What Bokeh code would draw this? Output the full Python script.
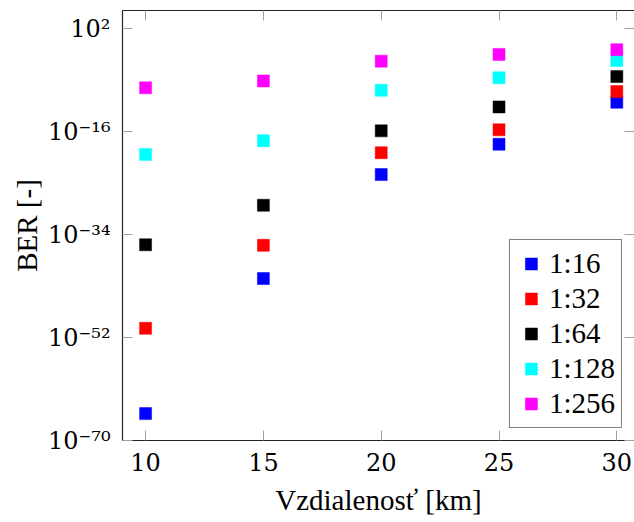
from bokeh.plotting import figure
from bokeh.models import FixedTicker, LinearAxis, LogAxis, Range1d, Legend, LegendItem
from bokeh.embed import file_html
from bokeh.resources import INLINE

# Data (BER vs distance)
distance_km = [10, 15, 20, 25, 30]
ber_1_16 = [5e-66, 2e-42, 3e-24, 6e-19, 1.3e-11]
ber_1_32 = [4e-51, 1.3e-36, 2e-20, 2e-16, 1e-9]
ber_1_64 = [1.6e-36, 1.3e-29, 1.3e-16, 2e-12, 4e-7]
ber_1_128 = [1e-20, 2.5e-18, 1.6e-9, 2.5e-7, 2.5e-4]
ber_1_256 = [4.3e-9, 7e-8, 2e-4, 3e-3, 2e-2]

series_labels = ["1:16", "1:32", "1:64", "1:128", "1:256"]
series_values = [ber_1_16, ber_1_32, ber_1_64, ber_1_128, ber_1_256]
series_colors = ["#0000ff", "#ff0000", "#000000", "#00ffff", "#ff00ff"]

x_ticks = [10, 15, 20, 25, 30]
y_ticks = [1e-70, 1e-52, 1e-34, 1e-16, 1e2]
y_tick_labels = ["10⁻⁷⁰", "10⁻⁵²", "10⁻³⁴", "10⁻¹⁶", "10²"]

FONT = "Liberation Serif"
TICK_FONT = "DejaVu Serif"
TICK_COLOR = "#a0a0a0"
FRAME_COLOR = "#222222"

p = figure(width=634, height=522, output_backend="svg", toolbar_location=None,
           y_axis_type="log",
           x_range=Range1d(9.02, 30.75), y_range=Range1d(1e-70, 10 ** 5.15),
           min_border_left=122, min_border_bottom=82, min_border_top=10, min_border_right=0)

p.grid.visible = False
p.outline_line_color = None
p.background_fill_color = "white"
p.border_fill_color = "white"

# bottom axis
xa = p.xaxis[0]
xa.ticker = FixedTicker(ticks=x_ticks, minor_ticks=[])
xa.axis_label = "Vzdialenosť [km]"
# left axis
ya = p.yaxis[0]
ya.ticker = FixedTicker(ticks=y_ticks, minor_ticks=[])
ya.major_label_overrides = {t: l for t, l in zip(y_ticks, y_tick_labels)}
ya.axis_label = "BER [-]"

for ax in (xa, ya):
    ax.axis_line_color = FRAME_COLOR
    ax.axis_line_width = 1.2
    ax.major_tick_in = 10
    ax.major_tick_out = 0
    ax.major_tick_line_color = TICK_COLOR
    ax.minor_tick_line_color = None
    ax.major_label_text_font = TICK_FONT
    ax.major_label_text_font_size = "24px"
    ax.major_label_text_color = "black"
    ax.axis_label_text_font = FONT
    ax.axis_label_text_font_size = "29px"
    ax.axis_label_text_font_style = "normal"
    ax.axis_label_text_color = "black"

xa.major_label_standoff = 12
xa.axis_label_standoff = 10
ya.major_label_standoff = 12
ya.axis_label_standoff = 2

# mirrored tick marks on top and right (right frame edge is cut off in the original)
top = LinearAxis(ticker=FixedTicker(ticks=x_ticks, minor_ticks=[]),
                 major_label_overrides={t: "" for t in x_ticks})
right = LogAxis(ticker=FixedTicker(ticks=y_ticks, minor_ticks=[]),
                major_label_overrides={t: "" for t in y_ticks})
for ax in (top, right):
    ax.major_tick_in = 10
    ax.major_tick_out = 0
    ax.major_tick_line_color = TICK_COLOR
    ax.minor_tick_line_color = None
    ax.major_label_text_font_size = "0px"
    ax.major_label_standoff = 0
top.axis_line_color = FRAME_COLOR
top.axis_line_width = 1.2
right.axis_line_color = None
p.add_layout(top, "above")
p.add_layout(right, "right")

items = []
for lab, vals, col in zip(series_labels, series_values, series_colors):
    r = p.scatter(distance_km, vals, marker="square", size=12,
                  fill_color=col, line_color=col, line_width=0.5)
    items.append(LegendItem(label=lab, renderers=[r]))

legend = Legend(items=items, location="bottom_right", margin=12,
                padding=6, spacing=0, glyph_width=30, glyph_height=35,
                label_height=35, label_standoff=3,
                label_text_font=FONT, label_text_font_size="29px",
                label_text_color="black",
                border_line_color="black", border_line_width=1,
                background_fill_alpha=1.0)
p.add_layout(legend, "center")

open("out.html", "w").write(file_html(p, INLINE))
